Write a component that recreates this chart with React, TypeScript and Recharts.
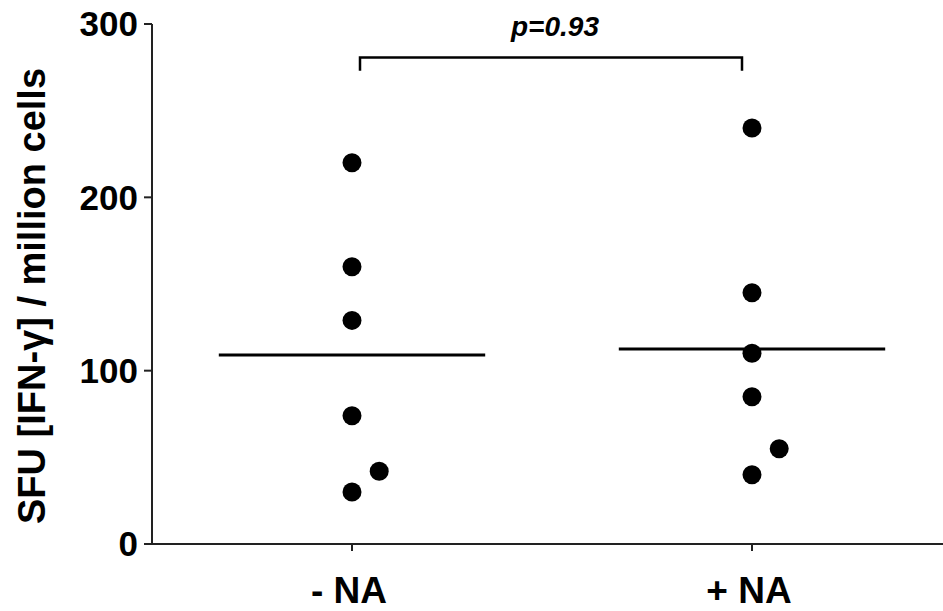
import React from "react";
import {
	ScatterChart,
	Scatter,
	XAxis,
	YAxis,
	ReferenceLine,
	ReferenceDot,
} from "recharts";

const GROUPS = ["- NA", "+ NA"];
const Y_TICKS = [0, 100, 200, 300];
const Y_TITLE = "SFU [IFN-γ] / million cells";

// one value per donor, jitter = small horizontal nudge for overlapping dots
const MINUS_NA = [220, 160, 129, 74, 42, 30];
const MINUS_NA_JITTER = [0, 0, 0, 0, 0.068, 0];
const PLUS_NA = [240, 145, 110, 85, 55, 40];
const PLUS_NA_JITTER = [0, 0, 0, 0, 0.068, 0];
const MEANS = [109, 112.5];
const MEAN_HALF_WIDTH = 0.333;

const P_LABEL = "p=0.93";
const BRACKET_X = [0.02, 0.975];
const BRACKET_Y = [273, 280.7];

const FONT = '"Liberation Sans", Arial, Helvetica, sans-serif';
const INK = "#000";
const AXIS = "#222";

const toPoints = (vals: number[], jitter: number[], gi: number) =>
	vals.map((v, i) => ({ x: gi + jitter[i], y: v }));

const dotsMinus = toPoints(MINUS_NA, MINUS_NA_JITTER, 0);
const dotsPlus = toPoints(PLUS_NA, PLUS_NA_JITTER, 1);

const bracket = [
	{ x: BRACKET_X[0], y: BRACKET_Y[0] },
	{ x: BRACKET_X[0], y: BRACKET_Y[1] },
	{ x: BRACKET_X[1], y: BRACKET_Y[1] },
	{ x: BRACKET_X[1], y: BRACKET_Y[0] },
];

const Dot = (props: any) => (
	<circle cx={props.cx} cy={props.cy} r={9.5} fill={INK} />
);

const NoDot = () => <g />;

const YTitle = () => (
	<text
		x={45}
		y={296}
		transform="rotate(-90, 45, 296)"
		textAnchor="middle"
		fontFamily={FONT}
		fontWeight="bold"
		fontSize={38}
		fill={INK}
	>
		{Y_TITLE}
	</text>
);

export default function App() {
	return (
		<div style={{ position: "absolute", left: 0, top: 0 }}>
			<ScatterChart
				width={943}
				height={611}
				margin={{ top: 24, right: 0, bottom: 0, left: 0 }}
			>
				<XAxis
					type="number"
					dataKey="x"
					domain={[-0.5, 1.4775]}
					ticks={[0, 1]}
					allowDataOverflow
					tickFormatter={(v) => GROUPS[v]}
					height={67}
					tickSize={7}
					tickMargin={26}
					axisLine={{ stroke: AXIS, strokeWidth: 2 }}
					tickLine={{ stroke: AXIS, strokeWidth: 2 }}
					tick={{
						fill: INK,
						fontSize: 37,
						fontWeight: "bold",
						fontFamily: FONT,
						dx: -3,
					}}
				/>
				<YAxis
					type="number"
					dataKey="y"
					domain={[0, 300]}
					ticks={Y_TICKS}
					width={152}
					tickSize={8}
					tickMargin={6}
					axisLine={{ stroke: AXIS, strokeWidth: 2 }}
					tickLine={{ stroke: AXIS, strokeWidth: 2 }}
					tick={{
						fill: INK,
						fontSize: 35,
						fontWeight: "bold",
						fontFamily: FONT,
					}}
					label={{ value: Y_TITLE, content: () => <YTitle /> }}
				/>
				{MEANS.map((m, gi) => (
					<ReferenceLine
						key={`mean-${gi}`}
						segment={[
							{ x: gi - MEAN_HALF_WIDTH, y: m },
							{ x: gi + MEAN_HALF_WIDTH, y: m },
						]}
						stroke={INK}
						strokeWidth={3}
					/>
				))}
				<Scatter
					data={dotsMinus}
					shape={Dot}
					isAnimationActive={false}
				/>
				<Scatter
					data={dotsPlus}
					shape={Dot}
					isAnimationActive={false}
				/>
				<Scatter
					data={bracket}
					shape={NoDot}
					line={{ stroke: INK, strokeWidth: 2.5 }}
					lineType="joint"
					isAnimationActive={false}
				/>
				<ReferenceDot
					x={0.5075}
					y={298.8}
					r={0}
					fill="none"
					stroke="none"
					label={{
						value: P_LABEL,
						position: "center",
						fill: INK,
						fontSize: 28,
						fontWeight: "bold",
						fontStyle: "italic",
						fontFamily: FONT,
					}}
				/>
			</ScatterChart>
		</div>
	);
}
